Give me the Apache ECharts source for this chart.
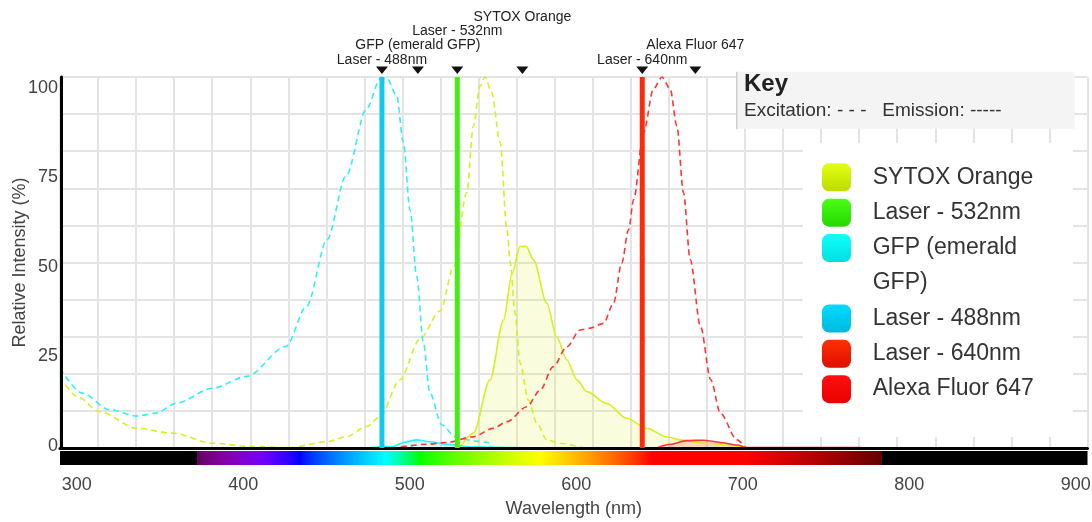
<!DOCTYPE html>
<html>
<head>
<meta charset="utf-8">
<title>Spectra viewer</title>
<script src="https://cdn.jsdelivr.net/npm/echarts@6/dist/echarts.min.js"></script>
<style>
html, body { margin: 0; padding: 0; background: #fff; }
#chart { width: 1092px; height: 522px; }
</style>
</head>
<body>
<div id="chart"></div>
<script>
// axis ticks
const wlTicks = [300, 400, 500, 600, 700, 800, 900]
const intensityTicks = [0, 25, 50, 75, 100]

// SYTOX Orange (excitation dashed, emission solid)
const sytoxExNm = [300, 310, 323, 345, 366, 389, 411, 434, 456, 467, 479, 487, 498.5, 510, 522, 530, 537.5, 541.4, 545.3, 548.2, 552, 557, 561, 563, 565.7, 568.7, 573.5, 578.4, 584.3, 592, 605.7]
const sytoxExVal = [19.3, 13.9, 9.8, 5.3, 4, 1.3, 0.4, 0.1, 1.7, 3, 5.8, 8.5, 18.4, 29.2, 37, 49, 68.8, 86.8, 97.6, 100, 95.9, 82.4, 58.8, 49.8, 36.3, 22.8, 12.9, 6.7, 2.2, 1.3, 0]
const sytoxEmNm = [533.6, 541.4, 551, 559, 564, 568.7, 572.2, 576.5, 584.3, 590, 596, 602, 607.7, 619.3, 631, 642.7, 654.4, 662, 676, 701]
const sytoxEmVal = [0, 4, 18.3, 34.5, 47.1, 54.3, 54.4, 50.7, 39, 30, 23.7, 18.3, 15.2, 12, 8, 5.3, 3, 2.2, 1.3, 0.1]

// GFP (emerald GFP)
const gfpExNm = [300, 313, 329, 345, 356, 368, 389, 409, 432, 444, 456, 467, 479, 487, 491, 496.6, 500.5, 504.4, 508.3, 512.2, 516, 523, 531, 542, 550, 551.5]
const gfpExVal = [21.5, 14.8, 10.3, 8.6, 9.4, 12.1, 16.1, 19.3, 27.4, 38.2, 56.2, 73.3, 91.4, 99.5, 99.5, 95, 82.4, 64.3, 46.3, 28.3, 14.8, 6.2, 3, 1.9, 1.5, 0]
const gfpEmNm = [478, 494.7, 500.5, 508.3, 516, 525.8, 539.4, 562.8, 585]
const gfpEmVal = [0, 0.4, 1.5, 2.2, 1.7, 1, 0.35, 0.1, 0]

// Alexa Fluor 647
const alexaExNm = [499, 514, 526, 541, 553, 561, 572.6, 580.4, 588, 596, 603.7, 609.6, 617.4, 623.2, 628, 632, 635, 640.7, 646.6, 651.5, 656.3, 660.2, 664.1, 668, 674, 680, 685.6, 695.3, 700]
const alexaExVal = [0.3, 1, 1.5, 3, 5.3, 7.1, 11.1, 15.6, 21.9, 27.3, 31.8, 32.3, 33.6, 39, 49.8, 58.8, 67, 85, 96.8, 100, 96.8, 86.8, 68.8, 50.8, 32.8, 18.4, 9.4, 2.2, 0.3]
const alexaEmNm = [648.6, 656.3, 666, 676, 685.6, 695.3, 701, 767, 770]
const alexaEmVal = [0, 1, 2, 2.1, 1.5, 0.8, 0.1, 0.1, 0]

// lasers
const laser488 = 488
const laser532 = 532
const laser640 = 640

// peak markers above the plot
const markerNm = [488, 509, 532, 570, 640, 671]
const markerText = ['Laser - 488nm', 'GFP (emerald GFP)', 'Laser - 532nm', 'SYTOX Orange', 'Laser - 640nm', 'Alexa Fluor 647']
const markerRow = [0, 1, 2, 3, 0, 1]

const FONT = 'Liberation Sans, Arial, sans-serif'
const C = {
  sytox: '#d6f01e',
  gfp: '#2ff0f8',
  alexa: '#ff3535',
  l488: '#12c8f2',
  l532: '#44ee10',
  l640: '#ff2a0a'
}

const zip = (xs, ys) => xs.map((x, i) => [x, ys[i]])
const grad = (a, b) => new echarts.graphic.LinearGradient(0, 0, 0, 1, [{ offset: 0, color: a }, { offset: 1, color: b }])

// visible spectrum colour (Bruton's approximation)
function wlColor (nm) {
  let r = 0, g = 0, b = 0
  if (nm >= 380 && nm < 440) { r = (440 - nm) / 60; b = 1 }
  else if (nm >= 440 && nm < 490) { g = (nm - 440) / 50; b = 1 }
  else if (nm >= 490 && nm < 510) { g = 1; b = (510 - nm) / 20 }
  else if (nm >= 510 && nm < 580) { r = (nm - 510) / 70; g = 1 }
  else if (nm >= 580 && nm < 645) { r = 1; g = (645 - nm) / 65 }
  else if (nm >= 645 && nm <= 780) { r = 1 }
  let f = 0
  if (nm >= 380 && nm < 420) f = 0.3 + 0.7 * (nm - 380) / 40
  else if (nm >= 420 && nm <= 700) f = 1
  else if (nm > 700 && nm <= 780) f = 0.3 + 0.7 * (780 - nm) / 80
  const ch = v => Math.round(255 * Math.pow(v * f, 0.8))
  return 'rgb(' + ch(r) + ',' + ch(g) + ',' + ch(b) + ')'
}
const spectrumStops = [300, 379.9]
for (let nm = 380; nm <= 780; nm += 2) spectrumStops.push(nm)
spectrumStops.push(780.1, 900)
const spectrumGrad = spectrumStops.map(nm => ({ offset: (nm - 300) / 600, color: wlColor(nm) }))

const dashed = { type: [6, 4], width: 1.6 }

function curve (name, nm, val, color, dash, fill) {
  const s = {
    name: name,
    type: 'line',
    data: zip(nm, val),
    showSymbol: false,
    smooth: 0.3,
    smoothMonotone: 'x',
    silent: true,
    color: color,
    lineStyle: dash ? Object.assign({ color: color }, dashed) : { color: color, width: 1.6 },
    z: 2
  }
  if (fill) s.areaStyle = { color: fill }
  return s
}

function laser (name, nm, color) {
  return {
    name: name,
    type: 'line',
    data: [[nm, 0], [nm, 100]],
    showSymbol: false,
    silent: true,
    color: color,
    lineStyle: { color: color, width: 5 },
    z: 4
  }
}

const chart = echarts.init(document.getElementById('chart'))
chart.setOption({
  animation: false,
  textStyle: { fontFamily: FONT },
  grid: { left: 60, right: 4.5, top: 77, bottom: 74, outerBoundsMode: 'none', containLabel: false },
  title: {
    text: 'Key',
    subtext: 'Excitation: - - -   Emission: -----',
    left: 737,
    top: 71.7,
    padding: [0, 73, 7, 7],
    itemGap: 2,
    backgroundColor: '#f4f4f4',
    textStyle: { fontSize: 24, fontWeight: 'bold', color: '#222', lineHeight: 26, fontFamily: FONT },
    subtextStyle: { fontSize: 19, color: '#333', lineHeight: 22, fontFamily: FONT },
    z: 6
  },
  legend: [
    {
      data: [
        { name: 'SYTOX Orange', itemStyle: { color: grad('#e2ff10', '#bcdc00') } },
        { name: 'Laser - 532nm', itemStyle: { color: grad('#4cff18', '#22d800') } },
        { name: 'GFP (emerald GFP)', itemStyle: { color: grad('#10ffff', '#00dede') } }
      ],
      formatter: n => (n === 'GFP (emerald GFP)' ? 'GFP (emerald' : n),
      left: 822, top: 159.7
    },
    {
      data: [
        { name: 'Laser - 488nm', itemStyle: { color: grad('#00dcff', '#00b8e0') } },
        { name: 'Laser - 640nm', itemStyle: { color: grad('#ff3000', '#dc0e00') } },
        { name: 'Alexa Fluor 647', itemStyle: { color: grad('#ff1010', '#e80000') } }
      ],
      left: 822, top: 300.9
    }
  ].map(l => Object.assign({
    orient: 'vertical',
    padding: 0,
    icon: 'roundRect',
    itemWidth: 29,
    itemHeight: 28,
    itemGap: 0,
    selectedMode: false,
    itemStyle: { borderWidth: 0 },
    textStyle: { fontSize: 23, lineHeight: 35.3, color: '#333', padding: [0, 0, 0, 16.7], fontFamily: FONT },
    z: 6
  }, l)),
  graphic: [
    { type: 'rect', left: 803, top: 143, shape: { width: 270, height: 294 }, style: { fill: '#fff' }, z: 1 },
    { type: 'text', left: 872.7, top: 283 - 11.5, style: { text: 'GFP)', fontSize: 23, fill: '#333', fontFamily: FONT }, z: 7 },
    { type: 'rect', left: 736, top: 71.7, shape: { width: 1.5, height: 57.6 }, style: { fill: '#cfcfcf' }, z: 7 }
  ],
  xAxis: [
    {
      type: 'value', min: 300, max: 900, position: 'bottom', z: 3,
      axisLine: { show: true, onZero: false, lineStyle: { color: '#000', width: 3 } },
      axisTick: { show: false }, axisLabel: { show: false }, splitLine: { show: false }
    },
    {
      // tick labels sit on their own slightly different scale in the reference
      type: 'value', min: 290, max: 907, position: 'bottom',
      axisLine: { show: false, onZero: false }, axisTick: { show: false }, splitLine: { show: false },
      axisLabel: { customValues: wlTicks, margin: 28, fontSize: 18, color: '#444', fontFamily: FONT },
      name: 'Wavelength (nm)', nameLocation: 'middle', nameGap: 52, nameMoveOverlap: false,
      nameTextStyle: { fontSize: 18, color: '#444', fontFamily: FONT }
    },
    {
      type: 'value', min: 0, max: 27, interval: 1, position: 'top', z: 0,
      axisLine: { show: false, onZero: false }, axisTick: { show: false }, axisLabel: { show: false },
      splitLine: { show: true, lineStyle: { color: '#e4e4e4', width: 2 } }
    }
  ],
  yAxis: [
    {
      type: 'value', min: 0, max: 100, position: 'left', offset: -1.5, z: 3,
      axisLine: { show: true, onZero: false, lineStyle: { color: '#000', width: 3 } },
      axisTick: { show: false }, axisLabel: { show: false }, splitLine: { show: false }
    },
    {
      type: 'value', min: -0.6, max: 103, position: 'left',
      axisLine: { show: false, onZero: false }, axisTick: { show: false }, splitLine: { show: false },
      axisLabel: { customValues: intensityTicks, margin: 2, fontSize: 18, color: '#444', fontFamily: FONT },
      name: 'Relative Intensity (%)', nameLocation: 'middle', nameGap: 31, nameMoveOverlap: false,
      nameTextStyle: { fontSize: 18, color: '#444', fontFamily: FONT }
    },
    {
      type: 'value', min: 0, max: 10, interval: 1, position: 'right', z: 0,
      axisLine: { show: false, onZero: false }, axisTick: { show: false }, axisLabel: { show: false },
      splitLine: { show: true, lineStyle: { color: '#e4e4e4', width: 2 } }
    }
  ],
  series: [
    curve('SYTOX Orange', sytoxEmNm, sytoxEmVal, C.sytox, false, 'rgba(214,240,30,0.22)'),
    curve('GFP (emerald GFP)', gfpEmNm, gfpEmVal, C.gfp, false, 'rgba(47,240,248,0.3)'),
    curve('Alexa Fluor 647', alexaEmNm, alexaEmVal, C.alexa, false, 'rgba(255,60,30,0.3)'),
    curve('SYTOX Orange', sytoxExNm, sytoxExVal, C.sytox, true),
    curve('GFP (emerald GFP)', gfpExNm, gfpExVal, C.gfp, true),
    curve('Alexa Fluor 647', alexaExNm, alexaExVal, C.alexa, true),
    laser('Laser - 532nm', laser532, C.l532),
    laser('Laser - 488nm', laser488, C.l488),
    laser('Laser - 640nm', laser640, C.l640),
    {
      name: 'spectrum',
      type: 'custom',
      silent: true,
      clip: false,
      z: 3,
      data: [[300, 900]],
      encode: { x: [0, 1] },
      renderItem: (params, api) => {
        const a = api.coord([api.value(0), 0])
        const b = api.coord([api.value(1), 0])
        return {
          type: 'rect',
          shape: { x: a[0], y: a[1] + 3, width: b[0] - a[0], height: 14 },
          style: { fill: new echarts.graphic.LinearGradient(0, 0, 1, 0, spectrumGrad) }
        }
      }
    },
    {
      name: 'markers',
      type: 'custom',
      silent: true,
      clip: false,
      z: 5,
      data: markerNm.map((nm, i) => [nm, markerRow[i]]),
      encode: { x: 0 },
      renderItem: (params, api) => {
        const p = api.coord([api.value(0), 100])
        const row = api.value(1)
        return {
          type: 'group',
          children: [
            {
              type: 'polygon',
              shape: { points: [[p[0] - 6, p[1] - 10.5], [p[0] + 6, p[1] - 10.5], [p[0], p[1] - 3]] },
              style: { fill: '#111' }
            },
            {
              type: 'text',
              style: {
                text: markerText[params.dataIndex],
                x: p[0], y: p[1] - 17 - row * 14.4,
                align: 'center', verticalAlign: 'middle',
                fontSize: 14, fill: '#222', fontFamily: FONT
              }
            }
          ]
        }
      }
    }
  ]
})
</script>
</body>
</html>
